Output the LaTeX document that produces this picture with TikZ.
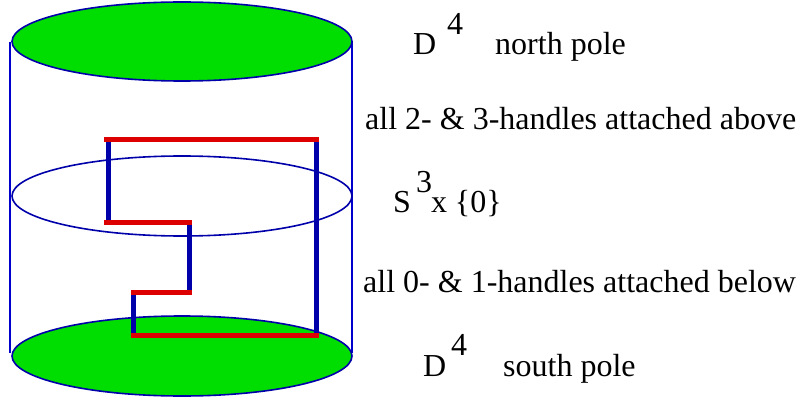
\documentclass[tikz,border=0pt]{standalone}
\usepackage{fontspec}
\setmainfont{Liberation Serif}
\newfontfamily\timesfont{Liberation Serif}
\definecolor{discgreen}{HTML}{00DD00}
\definecolor{linered}{HTML}{DD0000}
\definecolor{lineblue}{HTML}{0000AA}
\definecolor{thinblue}{HTML}{0000CC}
\begin{document}
\begin{tikzpicture}[x=1pt,y=-1pt,
  outline/.style={draw=lineblue,line width=1.6pt},
  side/.style={draw=thinblue,line width=1.1pt},
  redseg/.style={draw=linered,line width=5pt},
  blueseg/.style={draw=lineblue,line width=5pt},
  lab/.style={anchor=base west,inner sep=0pt,font=\timesfont\fontsize{32}{36}\selectfont}]
\useasboundingbox (0,0) rectangle (799,398);
% cylinder sides
\draw[side] (10,42) -- (10,353);
\draw[side] (352,42) -- (352,353);
% middle sphere S^3 x {0}
\draw[outline] (182,196) ellipse [x radius=170, y radius=40];
% discs
\draw[outline,fill=discgreen] (182,41.5) ellipse [x radius=170, y radius=39.5];
\draw[outline,fill=discgreen] (182,356) ellipse [x radius=170, y radius=40];
% handle path
\coordinate (a1) at (108,140); \coordinate (a2) at (108,222);
\coordinate (b1) at (189,222); \coordinate (b2) at (189,292);
\coordinate (c1) at (133,292); \coordinate (c2) at (133,335);
\coordinate (d1) at (316,140); \coordinate (d2) at (316,335);
\draw[blueseg] (a1) -- (a2);
\draw[blueseg] (b1) -- (b2);
\draw[blueseg] (c1) -- (c2);
\draw[blueseg] (d1) -- (d2);
\draw[redseg] (104,140) -- (319,140);
\draw[redseg] (104,222) -- (192,222);
\draw[redseg] (131,292) -- (192,292);
\draw[redseg] (131,335) -- (319,335);
% labels
\node[lab] (dn) at (413,55) {D};
\node[lab] (dn4) at (447,35) {4};
\node[lab] (np) at (495,55) {north pole};
\node[lab] (above) at (365,130) {all 2- \& 3-handles attached above};
\node[lab] (s) at (393,212) {S\hspace{5pt}\raisebox{20pt}{3}\hspace{-1pt}x \{0\}};
\node[lab] (below) at (363,292) {all 0- \& 1-handles attached below};
\node[lab] (ds) at (423,376) {D};
\node[lab] (ds4) at (451,355) {4};
\node[lab] (sp) at (503,376) {south pole};
\end{tikzpicture}
\end{document}
